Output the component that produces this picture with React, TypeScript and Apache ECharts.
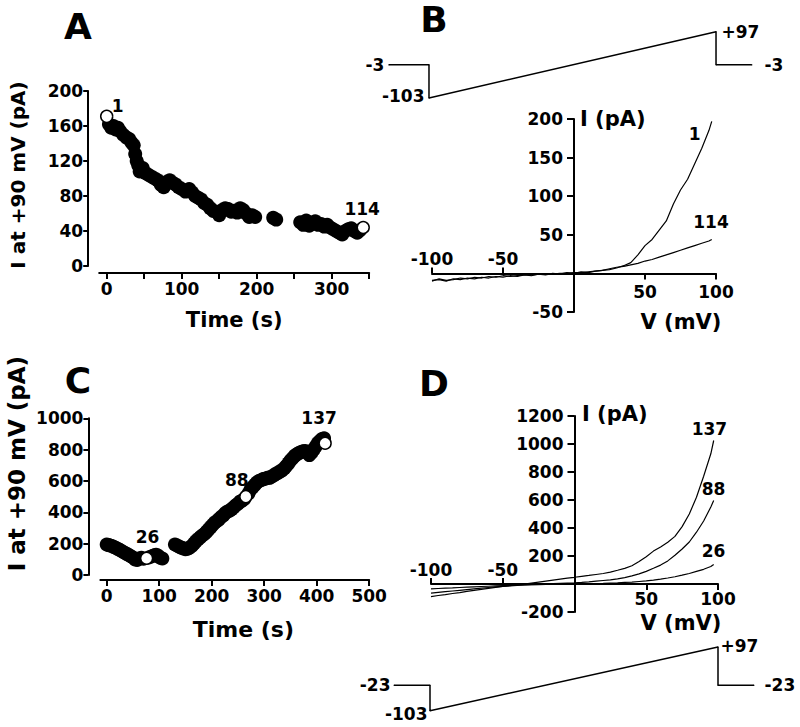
import React, { useEffect, useRef } from "react";
import * as echarts from "echarts";

const FONT = '"DejaVu Sans", "Liberation Sans", Arial, sans-serif';

// ---------- Panel A: current at +90 mV vs time ----------
const timeA = [3, 6, 9, 12, 15, 18, 22, 26, 30, 33, 36, 38, 40, 42, 44, 48, 52, 56, 60, 64, 68, 72, 76, 80, 84, 88, 92, 96, 100, 105, 110, 114, 118, 122, 126, 130, 134, 138, 142, 146, 150, 154, 158, 162, 166, 170, 174, 178, 182, 186, 190, 194, 198, 222, 226, 258, 262, 266, 270, 274, 278, 282, 286, 290, 294, 298, 302, 306, 310, 314, 318, 322, 326, 330, 334, 338];
const currA = [162, 158, 160, 156, 158, 154, 150, 147, 145, 141, 138, 128, 120, 115, 108, 112, 106, 104, 102, 100, 98, 93, 90, 96, 98, 95, 93, 90, 88, 85, 88, 84, 80, 78, 76, 72, 70, 66, 63, 62, 58, 64, 66, 65, 62, 63, 61, 66, 64, 60, 56, 58, 56, 55, 53, 50, 47, 52, 46, 48, 51, 47, 48, 45, 47, 44, 42, 40, 38, 36, 40, 42, 43, 40, 38, 41];
const openTimeA = [0, 342];
const openCurrA = [171, 44];
const openTagA = ["1", "114"];

// ---------- Panel C ----------
const timeC = [0, 3, 6, 10, 14, 18, 22, 26, 30, 34, 38, 42, 46, 50, 54, 58, 62, 66, 70, 80, 85, 90, 94, 98, 102, 106,
  130, 134, 138, 142, 146, 150, 154, 158, 162, 166, 170, 174, 178, 182, 186, 190, 194, 198, 202, 206, 210, 214, 218, 222, 226, 230, 234, 238, 242, 246, 250, 254, 258, 262, 270, 274, 278, 282, 286, 290, 294, 298, 302, 306, 310, 314, 318, 322, 326, 330, 334, 338, 342, 346, 350, 354, 358, 362, 366, 370, 374, 378, 382, 386, 390, 394, 398, 402, 406, 410, 414];
const currC = [195, 192, 188, 185, 178, 172, 165, 158, 150, 142, 135, 128, 120, 112, 100, 96, 105, 110, 104, 112, 118, 125, 130, 122, 110, 105,
  195, 188, 180, 175, 170, 165, 168, 175, 185, 200, 215, 228, 240, 252, 262, 275, 290, 305, 320, 335, 345, 355, 370, 380, 395, 405, 410, 420, 432, 445, 455, 468, 475, 485, 520, 545, 560, 575, 590, 600, 605, 612, 615, 620, 620, 628, 635, 645, 652, 660, 668, 680, 695, 712, 730, 745, 760, 770, 778, 785, 790, 792, 780, 765, 780, 800, 820, 840, 855, 868, 872];
const openTimeC = [76, 265, 416];
const openCurrC = [107, 500, 841];
const openTagC = ["26", "88", "137"];

// ---------- Panels B & D: I-V ramps ----------
const voltIV = [-100, -95, -90, -85, -80, -75, -70, -65, -60, -55, -50, -45, -40, -35, -30, -25, -20, -15, -10, -5, 0, 5, 10, 15, 20, 25, 30, 35, 40, 45, 50, 55, 60, 65, 70, 75, 80, 85, 90, 95, 97];
const iB1 = [-9, -8, -10, -7, -8, -6, -7, -5, -6, -4, -5, -3, -4, -2, -3, -1, -2, 0, -1, 1, 0, 2, 1, 3, 4, 5, 7, 10, 14, 24, 36, 44, 56, 68, 90, 108, 122, 142, 162, 185, 197];
const iB114 = [-10, -7, -9, -8, -6, -7, -5, -6, -4, -5, -3, -4, -3, -2, -2, -1, -1, -1, 0, 0, 1, 1, 2, 3, 4, 6, 8, 9, 11, 13, 16, 18, 21, 24, 27, 30, 33, 36, 39, 42, 44];
const iD137 = [-90, -82, -76, -68, -61, -53, -46, -38, -31, -24, -18, -11, -5, 0, 7, 14, 21, 28, 35, 42, 48, 55, 61, 68, 75, 85, 98, 112, 130, 160, 195, 235, 265, 298, 340, 410, 500, 620, 770, 930, 1025];
const iD88 = [-65, -60, -55, -50, -45, -40, -35, -30, -25, -21, -17, -13, -10, -7, -4, -2, 0, 2, 4, 6, 8, 11, 15, 20, 25, 30, 36, 46, 58, 72, 90, 112, 135, 165, 205, 250, 300, 370, 450, 550, 597];
const iD26 = [-35, -32, -30, -28, -25, -22, -20, -18, -16, -14, -12, -10, -8, -6, -5, -4, -3, -2, -1, 0, 0, 1, 2, 3, 4, 6, 8, 11, 14, 18, 22, 28, 35, 43, 52, 63, 75, 90, 105, 125, 140];
const tagsB: [number, number, string][] = [[85, 181, "1"], [96.5, 67, "114"]];
const tagsD: [number, number, string][] = [[94, 1106, "137"], [96.9, 676, "88"], [96.9, 239, "26"]];

// ---------- Voltage protocols ----------
const protoTimeB = [-28, 0, 0, 200, 200, 225];
const protoVoltB = [-3, -3, -103, 97, -3, -3];
const protoTimeD = [-25, 0, 0, 200, 200, 225];
const protoVoltD = [-23, -23, -103, 97, -23, -23];
const protoLabelSide = ["left", "", "left", "right", "", "right"];

// ---------- Ticks ----------
const ticksAx = [0, 50, 100, 150, 200, 250, 300, 350];
const labelsAx = [0, 100, 200, 300];
const ticksCx = [0, 100, 200, 300, 400, 500];
const ivNegX = [-100, -50];
const ivPosX = [50, 100];
const ticksBy = [-50, 50, 100, 150, 200];
const ticksDy = [-200, 200, 400, 600, 800, 1000, 1200];

const zip = (a: number[], b: number[]) => a.map((v, i) => [v, b[i]]);

const black = "#000";
const plain = (v: number) => String(v);
const lab = { color: black, fontSize: 17, fontWeight: "bold" as const, fontFamily: FONT };
const axLine = { show: true, onZero: false, lineStyle: { color: black, width: 2 } };
const tickSt = { color: black, width: 2 };

// grid geometry of the I-V panels (pixels)
const gridB = { left: 432, top: 119, width: 284, height: 193 };
const gridD = { left: 431, top: 416, width: 287, height: 196 };

function App() {
  const ref = useRef<HTMLDivElement>(null);
  useEffect(() => {
    if (!ref.current) return;
    const chart = echarts.init(ref.current, null, { renderer: "svg", width: 800, height: 727 });

    // axes crossing at the origin: shift from grid border by the position of zero
    const zeroShiftX = (g: any, min: number, max: number) => -(g.width * (0 - min)) / (max - min);
    const zeroShiftY = (g: any, min: number, max: number) => -(g.height * (0 - min)) / (max - min);
    const bXoff = zeroShiftY(gridB, -50, 200);
    const bYoff = zeroShiftX(gridB, -100, 100);
    const dXoff = zeroShiftY(gridD, -200, 1200);
    const dYoff = zeroShiftX(gridD, -100, 100);

    const tagMark = (items: [number, number, string][]) => ({
      symbol: "circle",
      symbolSize: 1,
      itemStyle: { color: "rgba(0,0,0,0)" },
      label: { show: true, position: "inside", formatter: "{b}", ...lab },
      data: items.map(([x, y, n]) => ({ coord: [x, y], name: n })),
    });

    const openOffsetsA = [[11, -10], [-1, -19]];
    const openOffsetsC = [[1, -21], [-9, -17], [-6, -25]];

    const protoData = (t: number[], v: number[], dist: number[], off: number[][]) =>
      t.map((x, i) => {
        const side = protoLabelSide[i];
        return {
          value: [x, v[i]],
          label: side
            ? {
                show: true,
                position: side,
                distance: dist[i],
                offset: off[i],
                formatter: v[i] > 0 ? "+" + v[i] : String(v[i]),
                ...lab,
              }
            : { show: false },
        };
      });

    const ivX = (gi: number, off: number, negMargin: number, posMargin: number) => [
      {
        gridIndex: gi, type: "value", min: -100, max: 100, position: "bottom", offset: off,
        axisLine: axLine,
        axisTick: { show: true, inside: true, length: 6, lineStyle: tickSt, customValues: ivNegX },
        axisLabel: { ...lab, inside: true, margin: negMargin, customValues: ivNegX, formatter: plain },
        splitLine: { show: false },
      },
      {
        gridIndex: gi, type: "value", min: -100, max: 100, position: "bottom", offset: off,
        axisLine: { show: false, onZero: false },
        axisTick: { show: true, length: 6, lineStyle: tickSt, customValues: ivPosX },
        axisLabel: { ...lab, margin: posMargin, customValues: ivPosX, formatter: plain },
        splitLine: { show: false },
      },
    ];

    const option: any = {
      animation: false,
      backgroundColor: "#fff",
      textStyle: { fontFamily: FONT },
      grid: [
        { left: 99.2, top: 91, width: 270, height: 175 }, // A
        { left: 100.4, top: 418.3, width: 268.8, height: 156.7 }, // C
        gridB,
        gridD,
        { left: 388.8, top: 31.7, width: 363.1, height: 66.3 }, // protocol B
        { left: 394, top: 647, width: 360, height: 63.7 }, // protocol D
      ],
      xAxis: [
        {
          gridIndex: 0, type: "value", min: -10, max: 350, offset: 7,
          axisLine: axLine,
          axisTick: { show: true, length: 6, lineStyle: tickSt, customValues: ticksAx },
          axisLabel: { ...lab, margin: 7, customValues: labelsAx, formatter: plain },
          splitLine: { show: false },
          name: "Time (s)", nameLocation: "middle", nameGap: 36,
          nameTextStyle: { ...lab, fontSize: 21 },
        },
        {
          gridIndex: 1, type: "value", min: -12, max: 500, offset: 5,
          axisLine: axLine,
          axisTick: { show: true, length: 6, lineStyle: tickSt, customValues: ticksCx },
          axisLabel: { ...lab, margin: 7, customValues: ticksCx, formatter: plain },
          splitLine: { show: false },
          name: "Time (s)", nameLocation: "middle", nameGap: 38,
          nameTextStyle: { ...lab, fontSize: 22, padding: [0, 0, 0, 17] },
        },
        ...ivX(2, bXoff, 6, 10),
        ...ivX(3, dXoff, 6, 6),
        { gridIndex: 4, type: "value", min: -28, max: 225, show: false },
        { gridIndex: 5, type: "value", min: -25, max: 225, show: false },
      ],
      yAxis: [
        {
          gridIndex: 0, type: "value", min: 0, max: 200, interval: 40, offset: 11,
          axisLine: axLine,
          axisTick: { show: true, length: 5, lineStyle: tickSt },
          axisLabel: { ...lab, margin: 5, formatter: plain },
          splitLine: { show: false },
          name: "I at +90 mV (pA)", nameLocation: "middle", nameGap: 60,
          nameTextStyle: { ...lab, fontSize: 20, padding: [0, 0, 0, 7] },
        },
        {
          gridIndex: 1, type: "value", min: 0, max: 1000, interval: 200, offset: 12,
          axisLine: axLine,
          axisTick: { show: true, length: 5, lineStyle: tickSt },
          axisLabel: { ...lab, margin: 5, formatter: plain },
          splitLine: { show: false },
          name: "I at +90 mV (pA)", nameLocation: "middle", nameGap: 60,
          nameTextStyle: { ...lab, fontSize: 23, padding: [0, 0, 0, 66] },
        },
        {
          gridIndex: 2, type: "value", min: -50, max: 200, position: "left", offset: bYoff,
          axisLine: axLine,
          axisTick: { show: true, length: 7, lineStyle: tickSt, customValues: ticksBy },
          axisLabel: { ...lab, margin: 11, customValues: ticksBy, formatter: plain },
          splitLine: { show: false },
        },
        {
          gridIndex: 3, type: "value", min: -200, max: 1200, position: "left", offset: dYoff,
          axisLine: axLine,
          axisTick: { show: true, length: 7, lineStyle: tickSt, customValues: ticksDy },
          axisLabel: { ...lab, margin: 11, customValues: ticksDy, formatter: plain },
          splitLine: { show: false },
        },
        { gridIndex: 4, type: "value", min: -103, max: 97, show: false },
        { gridIndex: 5, type: "value", min: -103, max: 97, show: false },
      ],
      series: [
        {
          type: "scatter", xAxisIndex: 0, yAxisIndex: 0, symbolSize: 14,
          itemStyle: { color: black, opacity: 1 }, data: zip(timeA, currA),
        },
        {
          type: "scatter", xAxisIndex: 0, yAxisIndex: 0, symbolSize: 12, z: 5,
          itemStyle: { color: "#fff", borderColor: black, borderWidth: 1.5, opacity: 1 },
          data: openTimeA.map((t, i) => ({
            value: [t, openCurrA[i]],
            label: { show: true, position: "inside", formatter: openTagA[i], offset: openOffsetsA[i], ...lab },
          })),
        },
        {
          type: "scatter", xAxisIndex: 1, yAxisIndex: 1, symbolSize: 14,
          itemStyle: { color: black, opacity: 1 }, data: zip(timeC, currC),
        },
        {
          type: "scatter", xAxisIndex: 1, yAxisIndex: 1, symbolSize: 12, z: 5,
          itemStyle: { color: "#fff", borderColor: black, borderWidth: 1.5, opacity: 1 },
          data: openTimeC.map((t, i) => ({
            value: [t, openCurrC[i]],
            label: { show: true, position: "inside", formatter: openTagC[i], offset: openOffsetsC[i], ...lab },
          })),
        },
        {
          type: "line", xAxisIndex: 2, yAxisIndex: 2, showSymbol: false,
          lineStyle: { color: black, width: 1.2 }, data: zip(voltIV, iB1),
          markPoint: tagMark(tagsB),
        },
        {
          type: "line", xAxisIndex: 2, yAxisIndex: 2, showSymbol: false,
          lineStyle: { color: black, width: 1.2 }, data: zip(voltIV, iB114),
        },
        {
          type: "line", xAxisIndex: 4, yAxisIndex: 3, showSymbol: false,
          lineStyle: { color: black, width: 1.2 }, data: zip(voltIV, iD137),
          markPoint: tagMark(tagsD),
        },
        {
          type: "line", xAxisIndex: 4, yAxisIndex: 3, showSymbol: false,
          lineStyle: { color: black, width: 1.2 }, data: zip(voltIV, iD88),
        },
        {
          type: "line", xAxisIndex: 4, yAxisIndex: 3, showSymbol: false,
          lineStyle: { color: black, width: 1.2 }, data: zip(voltIV, iD26),
        },
        {
          type: "line", xAxisIndex: 6, yAxisIndex: 4, symbol: "circle", symbolSize: 1, showSymbol: true,
          itemStyle: { color: black }, lineStyle: { color: black, width: 1.5 }, clip: false,
          data: protoData(protoTimeB, protoVoltB, [4, 0, 4, 5, 0, 12], [[0, 0], [0, 0], [0, -2], [0, 0], [0, 0], [0, 0]]),
        },
        {
          type: "line", xAxisIndex: 7, yAxisIndex: 5, symbol: "circle", symbolSize: 1, showSymbol: true,
          itemStyle: { color: black }, lineStyle: { color: black, width: 1.5 }, clip: false,
          data: protoData(protoTimeD, protoVoltD, [3, 0, 2, 2, 0, 10], [[0, 0], [0, 0], [0, 3], [0, -1], [0, 0], [0, 0]]),
        },
      ],
      graphic: [
        { type: "text", x: 78, y: 26, style: { text: "A", fill: black, fontSize: 36, fontWeight: "bold", fontFamily: FONT, align: "center", verticalAlign: "middle" } },
        { type: "text", x: 434, y: 19, style: { text: "B", fill: black, fontSize: 36, fontWeight: "bold", fontFamily: FONT, align: "center", verticalAlign: "middle" } },
        { type: "text", x: 78, y: 380, style: { text: "C", fill: black, fontSize: 36, fontWeight: "bold", fontFamily: FONT, align: "center", verticalAlign: "middle" } },
        { type: "text", x: 434, y: 383, style: { text: "D", fill: black, fontSize: 36, fontWeight: "bold", fontFamily: FONT, align: "center", verticalAlign: "middle" } },
        { type: "text", x: 580, y: 119, style: { text: "I (pA)", fill: black, fontSize: 21, fontWeight: "bold", fontFamily: FONT, align: "left", verticalAlign: "middle" } },
        { type: "text", x: 681, y: 322, style: { text: "V (mV)", fill: black, fontSize: 21, fontWeight: "bold", fontFamily: FONT, align: "center", verticalAlign: "middle" } },
        { type: "text", x: 582, y: 414, style: { text: "I (pA)", fill: black, fontSize: 21, fontWeight: "bold", fontFamily: FONT, align: "left", verticalAlign: "middle" } },
        { type: "text", x: 681, y: 623, style: { text: "V (mV)", fill: black, fontSize: 21, fontWeight: "bold", fontFamily: FONT, align: "center", verticalAlign: "middle" } },
      ],
    };
    chart.setOption(option);
    return () => chart.dispose();
  }, []);
  return <div ref={ref} style={{ position: "absolute", left: 0, top: 0, width: 800, height: 727 }} />;
}

export default App;
